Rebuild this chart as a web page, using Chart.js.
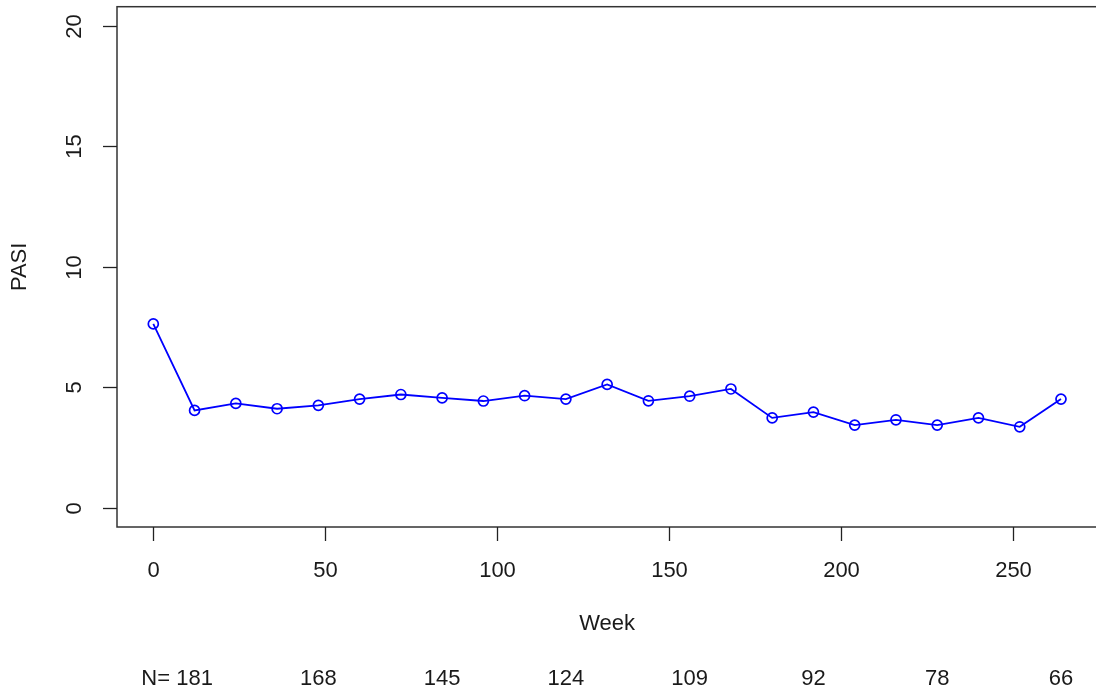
<!DOCTYPE html>
<html>
<head>
<meta charset="utf-8">
<script src="https://cdn.jsdelivr.net/npm/chart.js@4"></script>
<style>
  html, body { margin: 0; padding: 0; background: #fff; overflow: hidden; }
  #wrap { width: 1104px; height: 692px; }
</style>
</head>
<body>
<div id="wrap"><canvas id="pasiChart" width="1104" height="692"></canvas></div>
<script>
  // data
  const weeks = [0, 12, 24, 36, 48, 60, 72, 84, 96, 108, 120, 132, 144, 156, 168, 180, 192, 204, 216, 228, 240, 252, 264];
  const pasi = [7.63, 4.04, 4.33, 4.11, 4.25, 4.51, 4.70, 4.56, 4.43, 4.65, 4.51, 5.12, 4.44, 4.63, 4.93, 3.73, 3.97, 3.43, 3.65, 3.43, 3.73, 3.36, 4.51];

  const xTicks = [0, 50, 100, 150, 200, 250];
  const yTicks = [0, 5, 10, 15, 20];

  const nWeeks = [12, 48, 84, 120, 156, 192, 228, 264];
  const nCounts = [181, 168, 145, 124, 109, 92, 78, 66];

  const FONT = '22px "Liberation Sans", Arial, sans-serif';
  const INK = '#1a1a1a';

  const rAxes = {
    id: 'rAxes',
    afterDraw(chart) {
      const ctx = chart.ctx;
      const area = chart.chartArea;
      const xs = chart.scales.x, ys = chart.scales.y;
      ctx.save();

      // box
      ctx.strokeStyle = '#333';
      ctx.lineWidth = 1.5;
      ctx.strokeRect(area.left, area.top, area.right - area.left, area.bottom - area.top);

      ctx.font = FONT;
      ctx.fillStyle = INK;
      ctx.strokeStyle = '#222';
      ctx.lineWidth = 1.3;

      // x axis ticks
      ctx.textAlign = 'center';
      ctx.textBaseline = 'middle';
      xTicks.forEach(v => {
        const px = Math.round(xs.getPixelForValue(v)) + 0.5;
        ctx.beginPath();
        ctx.moveTo(px, area.bottom);
        ctx.lineTo(px, area.bottom + 14);
        ctx.stroke();
        ctx.fillText(String(v), px, 571);
      });

      // y axis ticks (labels rotated like R)
      yTicks.forEach(v => {
        const py = Math.round(ys.getPixelForValue(v)) + 0.5;
        ctx.beginPath();
        ctx.moveTo(area.left - 14, py);
        ctx.lineTo(area.left, py);
        ctx.stroke();
        ctx.save();
        ctx.translate(75, py);
        ctx.rotate(-Math.PI / 2);
        ctx.fillText(String(v), 0, 0);
        ctx.restore();
      });

      // axis titles
      const midX = (xs.getPixelForValue(xs.min) + xs.getPixelForValue(xs.max)) / 2;
      ctx.fillText('Week', midX, 624);
      ctx.save();
      ctx.translate(20, (area.top + area.bottom) / 2);
      ctx.rotate(-Math.PI / 2);
      ctx.fillText('PASI', 0, 0);
      ctx.restore();

      // numbers at risk
      nWeeks.forEach((w, i) => {
        const px = xs.getPixelForValue(w);
        const txt = String(nCounts[i]);
        ctx.textAlign = 'center';
        ctx.fillText(txt, px, 679);
        if (i === 0) {
          ctx.textAlign = 'right';
          ctx.fillText('N= ', px - ctx.measureText(txt).width / 2, 679);
        }
      });

      ctx.restore();
    }
  };

  new Chart(document.getElementById('pasiChart'), {
    type: 'scatter',
    data: {
      datasets: [{
        data: weeks.map((w, i) => ({ x: w, y: pasi[i] })),
        showLine: true,
        borderColor: '#0000ff',
        borderWidth: 1.8,
        pointRadius: 5,
        pointHoverRadius: 5,
        pointStyle: 'circle',
        pointBackgroundColor: 'rgba(0,0,0,0)',
        pointBorderColor: '#0000ff',
        pointBorderWidth: 1.7,
        tension: 0,
        clip: false
      }]
    },
    options: {
      responsive: false,
      animation: false,
      devicePixelRatio: 1,
      layout: { padding: { left: 117, top: 6.5, right: 2.5, bottom: 165 } },
      plugins: { legend: { display: false }, tooltip: { enabled: false } },
      scales: {
        x: { type: 'linear', min: -10.56, max: 274.56, display: false },
        y: { type: 'linear', min: -0.8, max: 20.8, display: false }
      }
    },
    plugins: [rAxes]
  });
</script>
</body>
</html>
